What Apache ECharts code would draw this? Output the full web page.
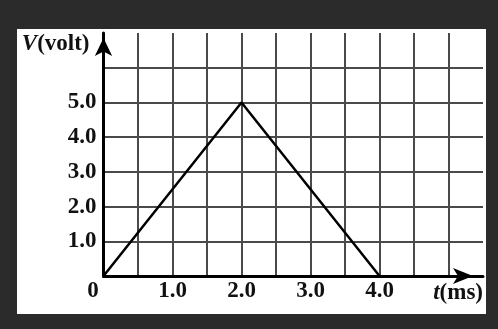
<!DOCTYPE html>
<html>
<head>
<meta charset="utf-8">
<script src="https://cdn.jsdelivr.net/npm/echarts@6/dist/echarts.min.js"></script>
<style>
html,body{margin:0;padding:0;background:#2b2b2b;}
#c{width:498px;height:329px;}
</style>
</head>
<body>
<div id="c"></div>
<script>
// Data
const timeMs = [0, 2.0, 4.0];
const voltage = [0, 5.0, 0];
const xTickLabels = [1.0, 2.0, 3.0, 4.0];
const yTickLabels = [1.0, 2.0, 3.0, 4.0, 5.0];

const font = '"Liberation Serif", "Times New Roman", serif';
const chart = echarts.init(document.getElementById('c'), null, {renderer: 'canvas'});
chart.setOption({
  backgroundColor: '#2b2b2b',
  animation: false,
  graphic: [{
    type: 'rect', z: -10, silent: true,
    shape: {x: 17, y: 29, width: 469, height: 285},
    style: {fill: '#ffffff'}
  }],
  grid: {left: 103.5, right: 15, top: 33, bottom: 53, containLabel: false},
  xAxis: {
    type: 'value', min: 0, max: 5.5, interval: 0.5,
    name: '{i|t}(ms)',
    nameLocation: 'end', nameGap: 0,
    nameTextStyle: {
      align: 'right', verticalAlign: 'top', padding: [6, 0, 0, 0],
      fontFamily: font, fontSize: 23, fontWeight: 'bold', color: '#111',
      rich: {i: {fontStyle: 'italic', fontFamily: font, fontSize: 23, fontWeight: 'bold', color: '#111'}}
    },
    axisLine: {show: true, lineStyle: {color: '#000', width: 3}, symbol: ['none', 'arrow'], symbolSize: [12, 20], symbolOffset: [0, -10]},
    axisTick: {show: false},
    splitLine: {show: true, showMaxLine: false, lineStyle: {color: '#4a4a4a', width: 2}},
    axisLabel: {
      margin: 4, verticalAlign: 'top',
      fontFamily: font, fontSize: 23, fontWeight: 'bold', color: '#111',
      showMaxLabel: false,
      formatter: function (v) {
        if (v === 0) return '{o|0}';
        return xTickLabels.indexOf(v) >= 0 ? v.toFixed(1) : '';
      },
      rich: {o: {fontFamily: font, fontSize: 23, fontWeight: 'bold', color: '#111', padding: [0, 21, 0, 0]}}
    }
  },
  yAxis: {
    type: 'value', min: 0, max: 7, interval: 1,
    name: '{i|V}(volt)',
    nameLocation: 'end', nameGap: 0,
    nameTextStyle: {
      align: 'right', verticalAlign: 'top', padding: [0, 14, 0, 0],
      fontFamily: font, fontSize: 23, fontWeight: 'bold', color: '#111',
      rich: {i: {fontStyle: 'italic', fontFamily: font, fontSize: 23, fontWeight: 'bold', color: '#111'}}
    },
    axisLine: {show: true, lineStyle: {color: '#000', width: 3}, symbol: ['none', 'arrow'], symbolSize: [13, 18], symbolOffset: [0, -5]},
    axisTick: {show: false},
    splitLine: {show: true, showMaxLine: false, lineStyle: {color: '#4a4a4a', width: 2}},
    axisLabel: {
      margin: 7,
      fontFamily: font, fontSize: 23, fontWeight: 'bold', color: '#111',
      formatter: function (v) {
        return yTickLabels.indexOf(v) >= 0 ? v.toFixed(1) : '';
      }
    }
  },
  series: [{
    type: 'line',
    data: timeMs.map((t, i) => [t, voltage[i]]),
    symbol: 'none',
    lineStyle: {color: '#000', width: 2.5},
    z: 5
  }]
});
</script>
</body>
</html>
